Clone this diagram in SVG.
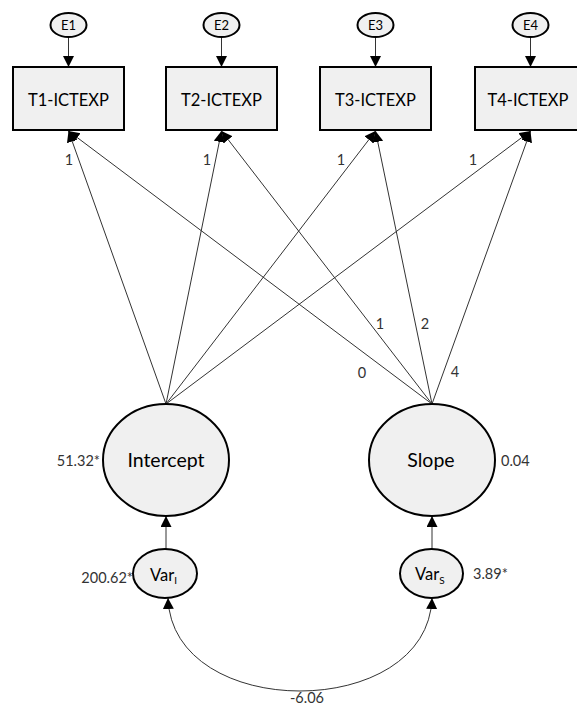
<svg xmlns="http://www.w3.org/2000/svg" width="577" height="706" viewBox="0 0 577 706">
  <style>
    .bg { fill: #ffffff; }
    .box { fill: #f0f0f0; stroke: #000000; stroke-width: 2; }
    .oval { fill: #f0f0f0; stroke: #000000; stroke-width: 2; }
    .edge { fill: none; stroke: #333333; stroke-width: 1; }
    .lbl { font-family: Lato, "Open Sans", "Liberation Sans", sans-serif; fill: #000000; text-anchor: middle; }
    .num { font-family: Lato, "Open Sans", "Liberation Sans", sans-serif; fill: #333333; font-size: 14.5px; }
    .obs { font-size: 16.5px; }
    .err { font-size: 13px; }
    .lat { font-size: 19.5px; }
    .var { font-size: 16.5px; text-anchor: start; }
    .sub { font-size: 10px; }
  </style>
  <defs>
    <marker id="arrow" markerUnits="userSpaceOnUse" markerWidth="12" markerHeight="12" refX="11" refY="5.5" orient="auto-start-reverse">
      <path d="M0,0 L11,5.5 L0,11 z" fill="#000000"/>
    </marker>
  </defs>

  <rect class="bg" x="0" y="0" width="577" height="706"/>

  <!-- connectors -->
  <g id="connectors">
    <!-- error terms to indicators -->
    <line class="edge" x1="68.5" y1="37" x2="68.5" y2="67" marker-end="url(#arrow)"/>
    <line class="edge" x1="221.5" y1="37" x2="221.5" y2="67" marker-end="url(#arrow)"/>
    <line class="edge" x1="375.5" y1="37" x2="375.5" y2="67" marker-end="url(#arrow)"/>
    <line class="edge" x1="530.5" y1="37" x2="530.5" y2="67" marker-end="url(#arrow)"/>
    <!-- intercept loadings -->
    <line class="edge" x1="166" y1="404" x2="68.5" y2="131" marker-end="url(#arrow)"/>
    <line class="edge" x1="166" y1="404" x2="221.5" y2="131" marker-end="url(#arrow)"/>
    <line class="edge" x1="166" y1="404" x2="375.5" y2="131" marker-end="url(#arrow)"/>
    <line class="edge" x1="166" y1="404" x2="530.5" y2="131" marker-end="url(#arrow)"/>
    <!-- slope loadings -->
    <line class="edge" x1="432" y1="404" x2="68.5" y2="131" marker-end="url(#arrow)"/>
    <line class="edge" x1="432" y1="404" x2="221.5" y2="131" marker-end="url(#arrow)"/>
    <line class="edge" x1="432" y1="404" x2="375.5" y2="131" marker-end="url(#arrow)"/>
    <line class="edge" x1="432" y1="404" x2="530.5" y2="131" marker-end="url(#arrow)"/>
    <!-- disturbances to latent factors -->
    <line class="edge" x1="166" y1="549" x2="166" y2="516" marker-end="url(#arrow)"/>
    <line class="edge" x1="432" y1="549" x2="432" y2="516" marker-end="url(#arrow)"/>
    <!-- covariance -->
    <path class="edge" d="M168,598 C172,722 428,722 432,598" marker-start="url(#arrow)" marker-end="url(#arrow)"/>
  </g>

  <!-- path coefficients -->
  <g id="loadings">
    <text class="num" x="69" y="165" text-anchor="middle">1</text>
    <text class="num" x="207" y="165" text-anchor="middle">1</text>
    <text class="num" x="341" y="165" text-anchor="middle">1</text>
    <text class="num" x="473" y="165" text-anchor="middle">1</text>
    <text class="num" x="362" y="378" text-anchor="middle">0</text>
    <text class="num" x="380" y="329" text-anchor="middle">1</text>
    <text class="num" x="425" y="329" text-anchor="middle">2</text>
    <text class="num" x="455" y="377" text-anchor="middle">4</text>
    <text class="num" x="307" y="703" text-anchor="middle">-6.06</text>
  </g>

  <!-- error terms -->
  <g id="E1"><ellipse class="oval" cx="68.5" cy="25" rx="18" ry="12"/><text class="lbl err" x="68.5" y="29.5">E1</text></g>
  <g id="E2"><ellipse class="oval" cx="221.5" cy="25" rx="18" ry="12"/><text class="lbl err" x="221.5" y="29.5">E2</text></g>
  <g id="E3"><ellipse class="oval" cx="375.5" cy="25" rx="18" ry="12"/><text class="lbl err" x="375.5" y="29.5">E3</text></g>
  <g id="E4"><ellipse class="oval" cx="530.5" cy="25" rx="18" ry="12"/><text class="lbl err" x="530.5" y="29.5">E4</text></g>

  <!-- observed indicators -->
  <g id="T1"><rect class="box" x="13" y="67" width="111" height="63"/><text class="lbl obs" x="68.5" y="105.5">T1-ICTEXP</text></g>
  <g id="T2"><rect class="box" x="166" y="67" width="111" height="63"/><text class="lbl obs" x="221.5" y="105.5">T2-ICTEXP</text></g>
  <g id="T3"><rect class="box" x="320" y="67" width="111" height="63"/><text class="lbl obs" x="375.5" y="105.5">T3-ICTEXP</text></g>
  <g id="T4"><rect class="box" x="475" y="67" width="111" height="63"/><text class="lbl obs" x="528" y="105.5">T4-ICTEXP</text></g>

  <!-- latent growth factors -->
  <g id="Intercept">
    <ellipse class="oval" cx="166" cy="460" rx="63" ry="56"/>
    <text class="lbl lat" x="166" y="467">Intercept</text>
    <text class="num" x="100" y="466" text-anchor="end">51.32*</text>
  </g>
  <g id="Slope">
    <ellipse class="oval" cx="432" cy="460" rx="63" ry="56"/>
    <text class="lbl lat" x="431" y="467">Slope</text>
    <text class="num" x="501" y="466">0.04</text>
  </g>

  <!-- factor variances -->
  <g id="VarI">
    <ellipse class="oval" cx="165" cy="573.5" rx="32" ry="24.5"/>
    <text class="lbl var" x="150" y="581">Var<tspan class="sub" dy="3">I</tspan></text>
    <text class="num" x="133" y="583" text-anchor="end">200.62*</text>
  </g>
  <g id="VarS">
    <ellipse class="oval" cx="431.5" cy="573.5" rx="31.5" ry="24.5"/>
    <text class="lbl var" x="415" y="580">Var<tspan class="sub" dy="4">S</tspan></text>
    <text class="num" x="473" y="579">3.89*</text>
  </g>
</svg>
